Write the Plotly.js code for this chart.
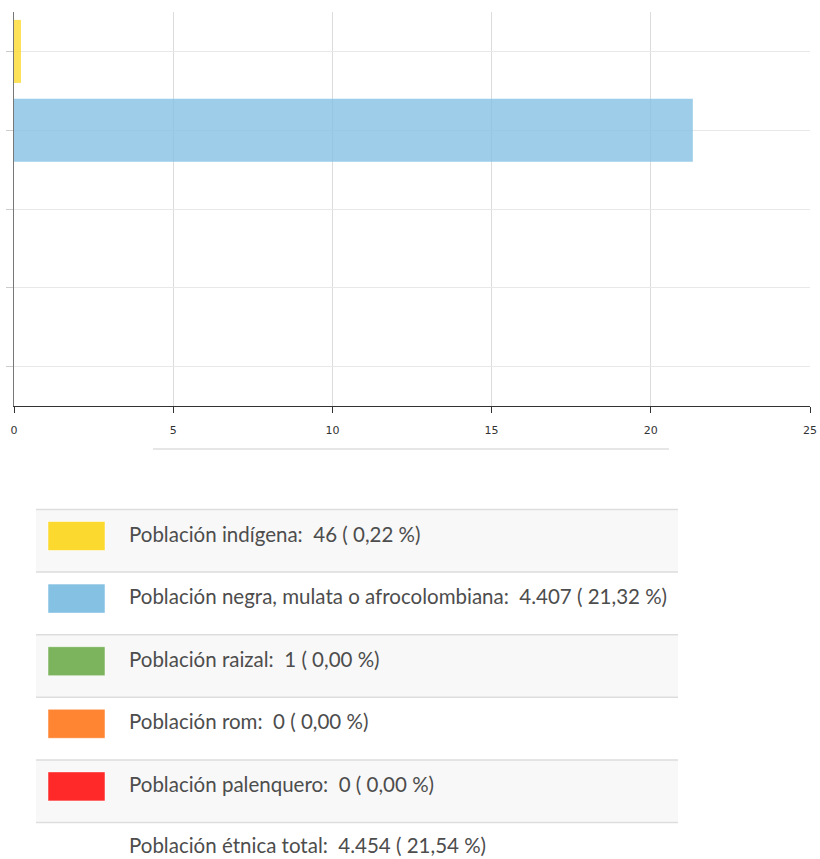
<!DOCTYPE html>
<html>
<head>
<meta charset="utf-8">
<script src="https://cdn.plot.ly/plotly-3.0.1.min.js"></script>
<style>
html,body{margin:0;padding:0;overflow:hidden;background:#fff;}
#chart{width:820px;height:859px;}
</style>
</head>
<body>
<div id="chart"></div>
<script>
// ---- data ----
const categories = ["Población indígena", "Población negra, mulata o afrocolombiana", "Población raizal", "Población rom", "Población palenquero"];
const percents = [0.22, 21.32, 0.00, 0.00, 0.00];
const counts = [46, 4407, 1, 0, 0];
const colors = ["#fcd92e", "#85c1e3", "#7cb35d", "#ff8533", "#ff2929"];
const totalLabel = "Población étnica total";
const xTicks = [0, 5, 10, 15, 20, 25];

// ---- helpers ----
const W = 820, H = 859;
const px = v => v / W;
const py = v => 1 - v / H;
function fmtInt(n){ return String(n).replace(/\B(?=(\d{3})+(?!\d))/g, "."); }
function fmtPct(p){ return p.toFixed(2).replace(".", ","); }
const NB = "\u00a0";
const textFont = { family: "Lato, 'Noto Sans', sans-serif", size: 20.5, color: "#4d4d4d" };

const trace = {
  type: "bar",
  orientation: "h",
  x: percents,
  y: categories,
  width: 0.8,
  marker: { color: colors, opacity: 0.8, line: { width: 0 } },
  hoverinfo: "none"
};

const shapes = [];
const annotations = [];
const rowTop = 509.5, rowH = 62.6;
categories.forEach((c, i) => {
  const t = rowTop + i * rowH;
  if (i % 2 === 0) {
    shapes.push({ type: "rect", xref: "paper", yref: "paper", x0: px(36), x1: px(678), y0: py(t), y1: py(t + rowH),
      fillcolor: "#f8f8f8", line: { width: 0 }, layer: "below" });
  }
  shapes.push({ type: "line", xref: "paper", yref: "paper", x0: px(36), x1: px(678), y0: py(t), y1: py(t),
    line: { color: "#dddddd", width: 1.5 } });
  shapes.push({ type: "rect", xref: "paper", yref: "paper", x0: px(48), x1: px(105), y0: py(t + 12), y1: py(t + 41),
    fillcolor: colors[i], line: { color: "rgba(255,255,255,0.5)", width: 1 } });
  annotations.push({ xref: "paper", yref: "paper", x: px(127), y: py(t + 24), xanchor: "left", yanchor: "middle",
    showarrow: false, text: c + ":" + NB + NB + fmtInt(counts[i]) + " ( " + fmtPct(percents[i]) + " %)",
    font: textFont });
});
const lastLine = rowTop + categories.length * rowH;
shapes.push({ type: "line", xref: "paper", yref: "paper", x0: px(36), x1: px(678), y0: py(lastLine), y1: py(lastLine),
  line: { color: "#dddddd", width: 1.5 } });
const totalCount = counts.reduce((a, b) => a + b, 0);
const totalPct = percents.reduce((a, b) => a + b, 0);
annotations.push({ xref: "paper", yref: "paper", x: px(127), y: py(lastLine + 22), xanchor: "left", yanchor: "middle",
  showarrow: false, text: totalLabel + ":" + NB + NB + fmtInt(totalCount) + " ( " + fmtPct(totalPct) + " %)",
  font: textFont });
// separator under axis
shapes.push({ type: "line", xref: "paper", yref: "paper", x0: px(153), x1: px(669), y0: py(449), y1: py(449),
  line: { color: "#e6e6e6", width: 2 } });

const layout = {
  width: W, height: H,
  margin: { l: 0, r: 0, t: 0, b: 0 },
  paper_bgcolor: "#ffffff", plot_bgcolor: "#ffffff",
  showlegend: false,
  bargap: 0.2,
  xaxis: {
    domain: [px(14), px(810)],
    range: [0, 25],
    tickvals: xTicks,
    ticktext: xTicks.map(String),
    showgrid: true, gridcolor: "#dcdcdc", gridwidth: 1,
    zeroline: false,
    showline: true, linecolor: "#333333", linewidth: 1.2,
    ticks: "outside", ticklen: 6, tickcolor: "#333333", tickwidth: 1,
    tickfont: { family: "'DejaVu Sans', Verdana, sans-serif", size: 11, color: "#333333" },
    ticklabelstandoff: 8,
    fixedrange: true
  },
  yaxis: {
    domain: [py(406), py(12)],
    type: "category",
    categoryorder: "array", categoryarray: categories,
    autorange: "reversed",
    showticklabels: false,
    showgrid: true, gridcolor: "#e8e8e8", gridwidth: 1,
    zeroline: false,
    showline: true, linecolor: "#777777", linewidth: 1.2,
    ticks: "outside", ticklen: 7, tickcolor: "#cccccc",
    fixedrange: true
  },
  shapes: shapes,
  annotations: annotations
};

Plotly.newPlot("chart", [trace], layout, { staticPlot: true, displayModeBar: false });
</script>
</body>
</html>
